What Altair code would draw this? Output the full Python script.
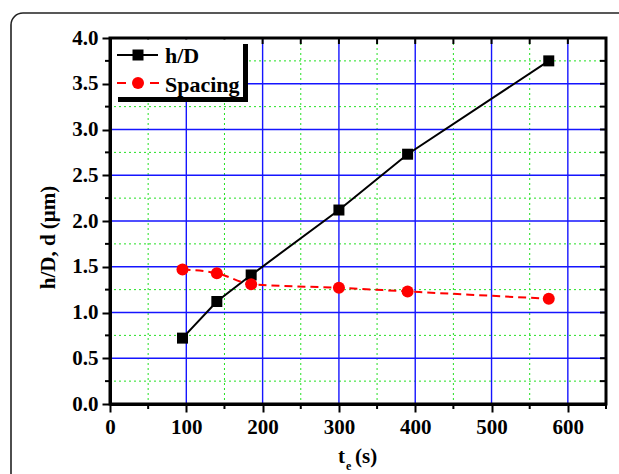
import altair as alt
import pandas as pd

# ---- data ----
te = [95, 140, 185, 300, 390, 575]
hd = [0.72, 1.12, 1.41, 2.12, 2.73, 3.75]
spacing = [1.47, 1.43, 1.31, 1.27, 1.23, 1.15]

x_major = [0, 100, 200, 300, 400, 500, 600]
x_minor = [50, 150, 250, 350, 450, 550, 650]
y_major = [0.0, 0.5, 1.0, 1.5, 2.0, 2.5, 3.0, 3.5, 4.0]
y_minor = [0.25, 0.75, 1.25, 1.75, 2.25, 2.75, 3.25, 3.75]
legend_labels = ["h/D", "Spacing"]
x_title_parts = ["t", "e", "(s)"]
y_title = "h/D, d (μm)"

W, H = 496, 366
FONT = "Liberation Serif"

df = pd.DataFrame({"te": te, "hd": hd, "sp": spacing})
xs = alt.Scale(domain=[0, 650], nice=False, zero=False)
ys = alt.Scale(domain=[0, 4], nice=False, zero=False)

x_axis = alt.Axis(
    values=x_major, format="d", title="", grid=False,
    labelFont=FONT, labelFontSize=21, labelFontWeight="bold", labelColor="black",
    labelFlush=False, labelOverlap=False, labelPadding=4,
    tickSize=8, tickWidth=2, tickColor="black",
    domainWidth=3, domainColor="black",
    zindex=1,
)
y_axis = alt.Axis(
    values=y_major, format=".1f", title=y_title, grid=False,
    labelFont=FONT, labelFontSize=21, labelFontWeight="bold", labelColor="black",
    labelFlush=False, labelOverlap=False, labelPadding=4,
    tickSize=8, tickWidth=2, tickColor="black",
    domainWidth=3, domainColor="black",
    titleFont=FONT, titleFontSize=21, titleFontWeight="bold", titleColor="black",
    titleAngle=270, titleX=-56, titleY=199, titleAlign="center", titleBaseline="alphabetic",
    zindex=1,
)

xmin_df = pd.DataFrame({"v": x_minor})
xmaj_df = pd.DataFrame({"v": [v for v in x_major if v != 0]})
ymin_df = pd.DataFrame({"v": y_minor})
ymaj_df = pd.DataFrame({"v": [v for v in y_major if 0 < v < 4]})
xall_df = pd.DataFrame({"v": sorted(x_major + x_minor)})
yall_df = pd.DataFrame({"v": sorted(y_major + y_minor)})
one = pd.DataFrame({"a": [0]})

def X(field="v"):
    return alt.X(f"{field}:Q", scale=xs, axis=x_axis)

def Y(field="v"):
    return alt.Y(f"{field}:Q", scale=ys, axis=y_axis)

grid_minor_v = alt.Chart(xmin_df).mark_rule(color="#22e022", strokeWidth=1, strokeDash=[2, 3]).encode(x=X())
grid_minor_h = alt.Chart(ymin_df).mark_rule(color="#22e022", strokeWidth=1, strokeDash=[2, 3]).encode(y=Y())
grid_major_v = alt.Chart(xmaj_df).mark_rule(color="#1515ff", strokeWidth=1.4).encode(x=X())
grid_major_h = alt.Chart(ymaj_df).mark_rule(color="#1515ff", strokeWidth=1.4).encode(y=Y())

tick_bottom_minor = alt.Chart(xmin_df).mark_rule(color="black", strokeWidth=2).encode(
    x=X(), y=alt.value(H), y2=alt.value(H + 5))
tick_left_minor = alt.Chart(ymin_df).mark_rule(color="black", strokeWidth=2).encode(
    y=Y(), x=alt.value(-5), x2=alt.value(0))
tick_top = alt.Chart(xall_df).mark_rule(color="black", strokeWidth=2).encode(
    x=X(), y=alt.value(0), y2=alt.value(6))
tick_right = alt.Chart(yall_df).mark_rule(color="black", strokeWidth=2).encode(
    y=Y(), x=alt.value(W - 6), x2=alt.value(W))

hd_line = alt.Chart(df).mark_line(color="black", strokeWidth=2).encode(x=X("te"), y=Y("hd"))
hd_pts = alt.Chart(df).mark_point(shape="square", filled=True, size=121, color="black", opacity=1).encode(
    x=X("te"), y=Y("hd"))
sp_line = alt.Chart(df).mark_line(color="red", strokeWidth=2, strokeDash=[8, 5], interpolate="monotone").encode(
    x=X("te"), y=Y("sp"))
sp_pts = alt.Chart(df).mark_point(shape="circle", filled=True, size=144, color="red", opacity=1).encode(
    x=X("te"), y=Y("sp"))

frame = alt.Chart(one).mark_rect(fillOpacity=0, stroke="black", strokeWidth=3).encode(
    x=alt.value(0), x2=alt.value(W), y=alt.value(0), y2=alt.value(H))

# legend
leg_shadow = alt.Chart(one).mark_rect(color="black").encode(
    x=alt.value(8), x2=alt.value(138), y=alt.value(6), y2=alt.value(64))
leg_box = alt.Chart(one).mark_rect(color="white").encode(
    x=alt.value(1.5), x2=alt.value(133), y=alt.value(1.5), y2=alt.value(59))
leg_l1 = alt.Chart(one).mark_rule(color="black", strokeWidth=2).encode(
    x=alt.value(7), x2=alt.value(48), y=alt.value(17))
leg_p1 = alt.Chart(one).mark_point(shape="square", filled=True, size=121, color="black", opacity=1).encode(
    x=alt.value(28), y=alt.value(17))
leg_t1 = alt.Chart(one).mark_text(align="left", baseline="alphabetic", font=FONT, fontSize=22,
                                  fontWeight="bold", color="black").encode(
    x=alt.value(55), y=alt.value(25), text=alt.value(legend_labels[0]))
leg_l2 = alt.Chart(one).mark_rule(color="red", strokeWidth=2, strokeDash=[9, 24]).encode(
    x=alt.value(7), x2=alt.value(49), y=alt.value(45))
leg_p2 = alt.Chart(one).mark_point(shape="circle", filled=True, size=144, color="red", opacity=1).encode(
    x=alt.value(28), y=alt.value(45))
leg_t2 = alt.Chart(one).mark_text(align="left", baseline="alphabetic", font=FONT, fontSize=22,
                                  fontWeight="bold", color="black").encode(
    x=alt.value(55), y=alt.value(54), text=alt.value(legend_labels[1]))

# x-axis title "t_e (s)" built from three text pieces
title_t = alt.Chart(one).mark_text(align="right", baseline="alphabetic", font=FONT, fontSize=21,
                                   fontWeight="bold", color="black").encode(
    x=alt.value(235), y=alt.value(H + 59), text=alt.value(x_title_parts[0]))
title_e = alt.Chart(one).mark_text(align="left", baseline="alphabetic", font=FONT, fontSize=12,
                                   fontWeight="bold", color="black").encode(
    x=alt.value(236), y=alt.value(H + 66), text=alt.value(x_title_parts[1]))
title_s = alt.Chart(one).mark_text(align="left", baseline="alphabetic", font=FONT, fontSize=21,
                                   fontWeight="bold", color="black").encode(
    x=alt.value(245), y=alt.value(H + 59), text=alt.value(x_title_parts[2]))

outer = alt.Chart(one).mark_rect(fillOpacity=0, stroke="#222222", strokeWidth=1.6, cornerRadius=12).encode(
    x=alt.value(-99), x2=alt.value(W + 60), y=alt.value(-25), y2=alt.value(H + 120))

chart = alt.layer(
    grid_minor_v, grid_minor_h, grid_major_v, grid_major_h,
    tick_bottom_minor, tick_left_minor, tick_top, tick_right,
    hd_line, hd_pts, sp_line, sp_pts,
    leg_shadow, leg_box, leg_l1, leg_p1, leg_t1, leg_l2, leg_p2, leg_t2,
    frame, title_t, title_e, title_s, outer,
).properties(
    width=W, height=H,
    autosize=alt.AutoSizeParams(type="none"),
    padding={"left": 110, "top": 38, "right": 13, "bottom": 70},
    background="white",
).configure_view(stroke=None)

chart.save("out.html", embed_options={"renderer": "svg", "actions": False})
